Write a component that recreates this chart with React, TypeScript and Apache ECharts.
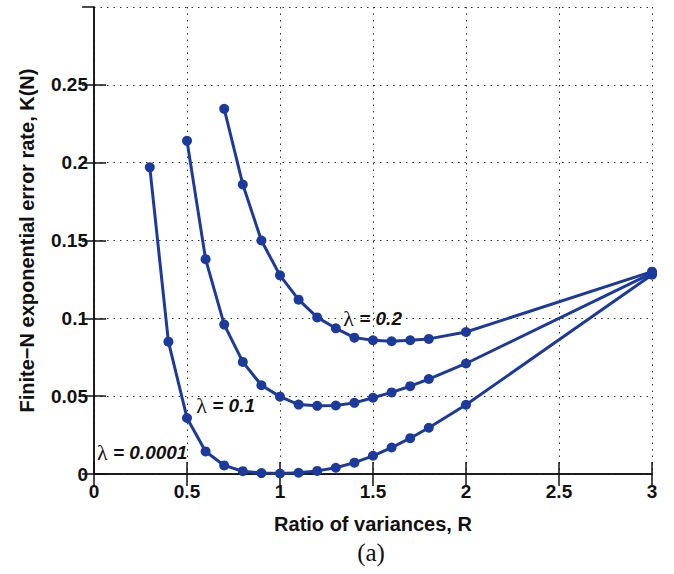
import React, { useEffect, useRef } from "react";
import * as echarts from "echarts";

const ratioA = [0.3, 0.4, 0.5, 0.6, 0.7, 0.8, 0.9, 1.0, 1.1, 1.2, 1.3, 1.4, 1.5, 1.6, 1.7, 1.8, 2.0, 3.0];
const kLambda00001 = [0.197, 0.085, 0.036, 0.0145, 0.0055, 0.0018, 0.0006, 0.0003, 0.0008, 0.002, 0.004, 0.0073, 0.0117, 0.017, 0.023, 0.0297, 0.0445, 0.128];

const ratioB = [0.5, 0.6, 0.7, 0.8, 0.9, 1.0, 1.1, 1.2, 1.3, 1.4, 1.5, 1.6, 1.7, 1.8, 2.0, 3.0];
const kLambda01 = [0.214, 0.138, 0.096, 0.072, 0.057, 0.0497, 0.0446, 0.0438, 0.044, 0.0457, 0.049, 0.0524, 0.0564, 0.061, 0.071, 0.129];

const ratioC = [0.7, 0.8, 0.9, 1.0, 1.1, 1.2, 1.3, 1.4, 1.5, 1.6, 1.7, 1.8, 2.0, 3.0];
const kLambda02 = [0.2346, 0.186, 0.15, 0.1276, 0.112, 0.1006, 0.0936, 0.0876, 0.0859, 0.0853, 0.0859, 0.0868, 0.0912, 0.130];

const labelTexts = ["0.2", "0.1", "0.0001"];
const labelPos = [
  [1.34, 0.1],
  [0.55, 0.044],
  [0.016, 0.0135],
];

const xTicks = { min: 0, max: 3, interval: 0.5 };
const yTicks = { min: 0, max: 0.3, interval: 0.05 };

const BLUE = "#1b3a9c";
const SANS = "Arial, 'Liberation Sans', Helvetica, sans-serif";
const SERIF = "'Liberation Serif', 'Times New Roman', serif";

export default function App() {
  const ref = useRef<HTMLDivElement>(null);
  useEffect(() => {
    if (!ref.current) return;
    const chart = echarts.init(ref.current, null, { renderer: "svg" });
    const zip = (xs: number[], ys: number[]) => xs.map((x, i) => [x, ys[i]]);
    const lineSeries = (data: number[][]) => ({
      type: "line",
      data,
      symbol: "circle",
      symbolSize: 10,
      lineStyle: { color: BLUE, width: 3 },
      itemStyle: { color: BLUE },
      silent: true,
    });
    const boxLine = { show: true, lineStyle: { color: "#111", width: 1.5 } };
    const boxTick = { show: true, inside: true, length: 12, lineStyle: { color: "#111", width: 1.5 } };
    const gridLine = { show: true, lineStyle: { color: "#333", type: [1.5, 5], width: 1 } };
    chart.setOption({
      animation: false,
      backgroundColor: "#fff",
      grid: { left: 94, right: 22, top: 7, bottom: 100, containLabel: false },
      xAxis: [
        {
          type: "value",
          ...xTicks,
          position: "bottom",
          name: "Ratio of variances, R",
          nameLocation: "middle",
          nameGap: 40,
          nameTextStyle: { fontFamily: SANS, fontWeight: "bold", fontSize: 20, color: "#111" },
          axisLine: boxLine,
          axisTick: boxTick,
          axisLabel: {
            fontFamily: SANS,
            fontWeight: "bold",
            fontSize: 19,
            color: "#111",
            margin: 8,
            formatter: (v: number) => String(v),
          },
          splitLine: gridLine,
        },
        {
          type: "value",
          ...xTicks,
          position: "top",
          axisLine: boxLine,
          axisTick: boxTick,
          axisLabel: { show: false },
          splitLine: { show: false },
        },
      ],
      yAxis: [
        {
          type: "value",
          ...yTicks,
          position: "left",
          name: "Finite\u2212N exponential error rate, K(N)",
          nameLocation: "middle",
          nameGap: 57,
          nameTextStyle: { fontFamily: SANS, fontWeight: "bold", fontSize: 20, color: "#111" },
          axisLine: boxLine,
          axisTick: boxTick,
          axisLabel: {
            fontFamily: SANS,
            fontWeight: "bold",
            fontSize: 19,
            color: "#111",
            margin: 6,
            showMaxLabel: false,
            formatter: (v: number) => (v >= 0.3 - 1e-9 ? "" : String(+v.toFixed(2))),
          },
          splitLine: gridLine,
        },
        {
          type: "value",
          ...yTicks,
          position: "right",
          axisLine: boxLine,
          axisTick: boxTick,
          axisLabel: { show: false },
          splitLine: { show: false },
        },
      ],
      series: [
        lineSeries(zip(ratioA, kLambda00001)),
        lineSeries(zip(ratioB, kLambda01)),
        lineSeries(zip(ratioC, kLambda02)),
        {
          type: "scatter",
          symbolSize: 0,
          silent: true,
          itemStyle: { opacity: 1 },
          data: labelPos.map((p, i) => ({ value: p, name: labelTexts[i] })),
          label: {
            show: true,
            position: "right",
            distance: 0,
            color: "#111",
            formatter: (p: any) => "{l|\u03bb}{t| = " + p.name + "}",
            rich: {
              l: { fontFamily: SERIF, fontSize: 22, color: "#111" },
              t: { fontFamily: SANS, fontWeight: "bold", fontStyle: "italic", fontSize: 19, color: "#111" },
            },
          },
        },
      ],
      graphic: [
        {
          type: "text",
          x: 371,
          y: 552,
          style: {
            text: "(a)",
            fontFamily: SERIF,
            fontSize: 25,
            fill: "#111",
            align: "center",
            verticalAlign: "middle",
          },
        },
      ],
    });
    return () => chart.dispose();
  }, []);
  return (
    <div
      ref={ref}
      style={{ position: "fixed", left: 0, top: 0, width: 674, height: 574, background: "#fff" }}
    />
  );
}
